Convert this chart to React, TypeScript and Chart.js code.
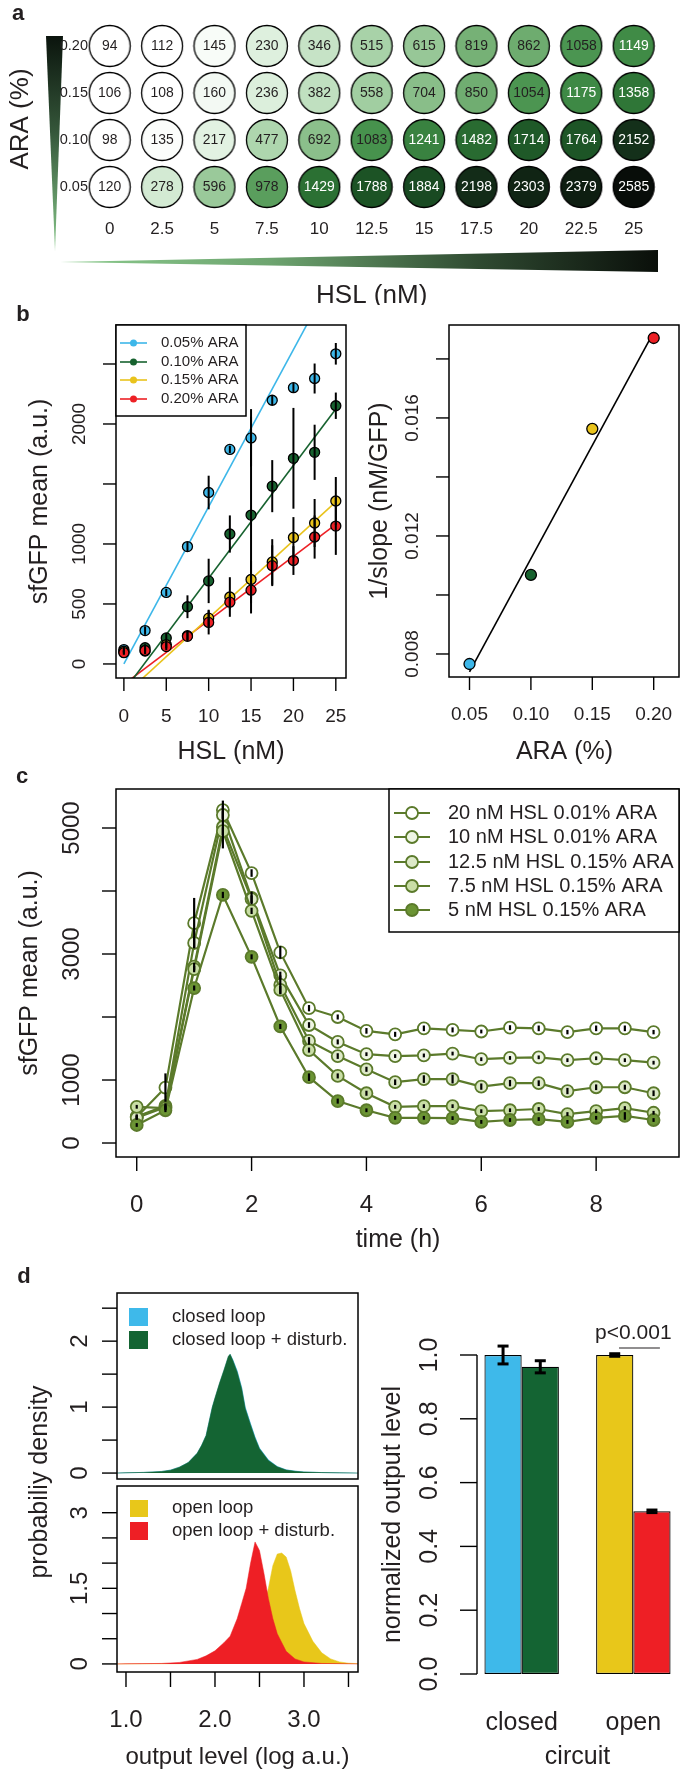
import React, { useEffect, useRef } from 'react';
import { Chart, registerables } from 'chart.js';

Chart.register(...registerables);

const FONT = "'Liberation Sans', Arial, Helvetica, sans-serif";
const INK = '#231f20';

// ---------------- Panel a / b (left) data ----------------
const hslLabels = ['0', '2.5', '5', '7.5', '10', '12.5', '15', '17.5', '20', '22.5', '25'];
const hslNM = [0, 2.5, 5, 7.5, 10, 12.5, 15, 17.5, 20, 22.5, 25];
const araLabels = ['0.05', '0.10', '0.15', '0.20'];
const gfpARA005 = [120, 278, 596, 978, 1429, 1788, 1884, 2198, 2303, 2379, 2585];
const gfpARA010 = [98, 135, 217, 477, 692, 1083, 1241, 1482, 1714, 1764, 2152];
const gfpARA015 = [106, 108, 160, 236, 382, 558, 704, 850, 1054, 1175, 1358];
const gfpARA020 = [94, 112, 145, 230, 346, 515, 615, 819, 862, 1058, 1149];
const errARA005 = [20, 35, 30, 40, 140, 30, 240, 40, 40, 125, 90];
const errARA010 = [20, 30, 40, 95, 185, 155, 820, 217, 420, 230, 110];
const errARA015 = [15, 25, 30, 40, 70, 165, 160, 190, 170, 200, 200];
const errARA020 = [15, 25, 30, 40, 100, 60, 110, 170, 120, 180, 240];
const fitSlope = [131, 94, 64.5, 53.3];
const fitIntercept = [0, -225, -262, -170];
const araSeriesNames = ['0.05% ARA', '0.10% ARA', '0.15% ARA', '0.20% ARA'];
const araColors = ['#3db7e9', '#17622f', '#e9c31c', '#ed2025'];

// ---------------- Panel b (right) data ----------------
const araPercent = [0.05, 0.1, 0.15, 0.2];
const inverseSlope = [0.00766, 0.01068, 0.01563, 0.01871];
const inverseFitIntercept = 0.00355;
const inverseFitSlope = 0.0768;

// ---------------- Panel c data ----------------
const timeH = [0, 0.5, 1, 1.5, 2, 2.5, 3, 3.5, 4, 4.5, 5, 5.5, 6, 6.5, 7, 7.5, 8, 8.5, 9];
const cNames = ['20 nM HSL 0.01% ARA', '10 nM HSL 0.01% ARA', '12.5 nM HSL 0.15% ARA', '7.5 nM HSL 0.15% ARA', '5 nM HSL 0.15% ARA'];
const cFills = ['#ffffff', '#eef5e3', '#dde9c8', '#c9dea6', '#6b9434'];
const cS1 = [413, 880, 3490, 5285, 4285, 3025, 2140, 2000, 1780, 1725, 1820, 1795, 1770, 1830, 1820, 1760, 1820, 1820, 1760];
const cS2 = [420, 590, 3175, 5206, 3890, 2660, 1873, 1605, 1410, 1380, 1390, 1420, 1330, 1350, 1360, 1315, 1345, 1315, 1275];
const cS3 = [400, 570, 2800, 5016, 3870, 2510, 1621, 1380, 1170, 965, 1015, 1015, 895, 950, 950, 825, 885, 885, 790];
const cS4 = [575, 555, 2760, 4950, 3685, 2430, 1475, 1065, 790, 575, 585, 585, 505, 520, 540, 460, 505, 555, 480];
const cS5 = [286, 520, 2460, 3937, 2955, 1850, 1045, 665, 520, 400, 400, 395, 335, 365, 380, 335, 400, 430, 365];
const cE1 = [40, 225, 400, 150, 60, 100, 50, 40, 45, 40, 45, 40, 30, 40, 45, 35, 45, 45, 35];
const cE2 = [30, 40, 80, 60, 100, 60, 45, 40, 30, 30, 30, 30, 30, 30, 30, 30, 30, 30, 30];
const cE3 = [30, 40, 60, 340, 60, 150, 60, 45, 40, 45, 60, 70, 50, 50, 45, 50, 45, 40, 45];
const cE4 = [30, 35, 50, 60, 50, 60, 40, 40, 40, 30, 30, 30, 30, 30, 30, 30, 30, 30, 30];
const cE5 = [30, 30, 40, 50, 40, 40, 60, 40, 30, 30, 30, 30, 30, 30, 30, 30, 30, 60, 30];
const OLIVE = '#5b7a2b';

// ---------------- Panel d data ----------------
const closedX = [0.9, 1.0, 1.2, 1.4, 1.5, 1.6, 1.7, 1.8, 1.85, 1.9, 1.97, 2.0, 2.05, 2.1, 2.15, 2.17, 2.2, 2.25, 2.3, 2.34, 2.4, 2.45, 2.5, 2.6, 2.7, 2.8, 2.9, 3.0, 3.2, 3.4, 3.61];
const closedLoop = [0, 0.004, 0.01, 0.025, 0.045, 0.09, 0.16, 0.3, 0.42, 0.57, 1.0, 1.13, 1.35, 1.55, 1.76, 1.8, 1.72, 1.55, 1.3, 1.0, 0.75, 0.55, 0.38, 0.2, 0.1, 0.05, 0.03, 0.018, 0.008, 0.003, 0];
const closedLoopDisturbed = [0, 0.004, 0.01, 0.024, 0.044, 0.09, 0.16, 0.3, 0.42, 0.57, 1.0, 1.14, 1.36, 1.56, 1.77, 1.8, 1.71, 1.53, 1.28, 0.98, 0.73, 0.53, 0.37, 0.19, 0.095, 0.046, 0.027, 0.016, 0.007, 0.003, 0];
const openX = [0.9, 1.6, 2.0, 2.2, 2.3, 2.4, 2.5, 2.55, 2.6, 2.65, 2.7, 2.75, 2.8, 2.85, 2.9, 2.95, 3.0, 3.1, 3.2, 3.3, 3.4, 3.5, 3.61];
const openLoop = [0, 0.005, 0.03, 0.1, 0.2, 0.42, 0.85, 1.15, 1.5, 1.95, 2.18, 2.2, 2.12, 1.85, 1.45, 1.1, 0.8, 0.45, 0.22, 0.1, 0.04, 0.015, 0.005];
const openDistX = [0.9, 1.0, 1.4, 1.6, 1.8, 1.9, 2.0, 2.1, 2.17, 2.25, 2.3, 2.35, 2.4, 2.45, 2.5, 2.55, 2.6, 2.65, 2.7, 2.8, 2.9, 3.0, 3.2, 3.61];
const openLoopDisturbed = [0, 0.003, 0.01, 0.03, 0.09, 0.16, 0.26, 0.42, 0.55, 0.9, 1.2, 1.5, 2.0, 2.42, 2.25, 1.8, 1.3, 0.9, 0.6, 0.25, 0.1, 0.04, 0.01, 0];
const circuits = ['closed', 'open'];
const levelUndisturbed = [1.0, 1.0];
const levelDisturbed = [0.963, 0.51];
const errUndisturbed = [0.028, 0.004];
const errDisturbed = [0.019, 0.004];
const dBlue = '#3eb9ea';
const dGreen = '#146433';
const dYellow = '#e8c71a';
const dRed = '#ee1f25';

// ---------------- helpers ----------------
function txt(ctx: any, s: string, x: number, y: number, size: number, o: any = {}) {
  ctx.save();
  ctx.font = `${o.bold ? 'bold ' : ''}${size}px ${FONT}`;
  ctx.fillStyle = o.color || INK;
  ctx.textAlign = o.align || 'center';
  ctx.textBaseline = o.baseline || 'middle';
  ctx.translate(x, y);
  if (o.rot) ctx.rotate(o.rot);
  if (o.sx) ctx.scale(o.sx, 1);
  ctx.fillText(s, 0, 0);
  ctx.restore();
}
function seg(ctx: any, x1: number, y1: number, x2: number, y2: number) {
  ctx.beginPath();
  ctx.moveTo(x1, y1);
  ctx.lineTo(x2, y2);
  ctx.stroke();
}
const ROT = -Math.PI / 2;

function yAxisR(ctx: any, sy: (v: number) => number, axisX: number, values: number[], labels: string[], labelX: number, size: number, tick = 13) {
  ctx.save();
  ctx.strokeStyle = '#000';
  ctx.lineWidth = 1.4;
  values.forEach((v, i) => {
    const y = sy(v);
    seg(ctx, axisX - tick, y, axisX, y);
    if (labels[i]) txt(ctx, labels[i], labelX, y, size, { rot: ROT });
  });
  ctx.restore();
}
function xAxisR(ctx: any, sx: (v: number) => number, axisY: number, values: number[], labels: string[], labelY: number, size: number, tick = 13) {
  ctx.save();
  ctx.strokeStyle = '#000';
  ctx.lineWidth = 1.4;
  values.forEach((v, i) => {
    const x = sx(v);
    seg(ctx, x, axisY, x, axisY + tick);
    if (labels[i]) txt(ctx, labels[i], x, labelY, size);
  });
  ctx.restore();
}
function boxR(ctx: any, a: any) {
  ctx.save();
  ctx.strokeStyle = '#000';
  ctx.lineWidth = 1.5;
  ctx.strokeRect(a.left, a.top, a.right - a.left, a.bottom - a.top);
  ctx.restore();
}

const heatStops: [number, number[]][] = [
  [0, [255, 255, 255]], [120, [255, 255, 255]], [250, [216, 237, 216]], [500, [170, 212, 170]],
  [800, [121, 179, 121]], [1100, [68, 144, 74]], [1400, [44, 114, 52]], [1800, [27, 82, 37]],
  [2150, [20, 48, 26]], [2600, [8, 12, 8]],
];
function heatColor(v: number) {
  for (let i = 1; i < heatStops.length; i++) {
    const [v1, c1] = heatStops[i];
    const [v0, c0] = heatStops[i - 1];
    if (v <= v1) {
      const t = (v - v0) / (v1 - v0);
      const c = c0.map((k, j) => Math.round(k + (c1[j] - k) * t));
      return `rgb(${c[0]},${c[1]},${c[2]})`;
    }
  }
  return 'rgb(8,12,8)';
}
function ellipseImage(fill: string) {
  const c = document.createElement('canvas');
  c.width = 44;
  c.height = 44;
  const g = c.getContext('2d') as CanvasRenderingContext2D;
  g.beginPath();
  g.ellipse(22, 22, 20.5, 20.5, 0, 0, Math.PI * 2);
  g.fillStyle = fill;
  g.fill();
  g.lineWidth = 1.3;
  g.strokeStyle = '#000';
  g.stroke();
  return c;
}

type Rect = { left: number; top: number; width: number; height: number };
type Area = { left: number; top: number; right: number; bottom: number };

function PanelChart({ rect, area, make }: { rect: Rect; area: Area; make: (ox: number, oy: number, area: Area) => any }) {
  const ref = useRef<HTMLCanvasElement>(null);
  useEffect(() => {
    const cfg = make(rect.left, rect.top, area);
    const o = cfg.options || {};
    o.responsive = false;
    o.maintainAspectRatio = false;
    o.animation = false;
    o.devicePixelRatio = 1;
    o.events = [];
    o.layout = {
      padding: {
        left: area.left - rect.left,
        top: area.top - rect.top,
        right: rect.left + rect.width - area.right,
        bottom: rect.top + rect.height - area.bottom,
      },
    };
    o.plugins = { ...(o.plugins || {}), legend: { display: false }, tooltip: { enabled: false }, title: { display: false } };
    cfg.options = o;
    const chart = new Chart(ref.current as HTMLCanvasElement, cfg);
    return () => chart.destroy();
  }, []);
  return (
    <canvas
      ref={ref}
      width={rect.width}
      height={rect.height}
      style={{ position: 'absolute', left: rect.left, top: rect.top, width: rect.width, height: rect.height }}
    />
  );
}

function scalers(chart: any, ox: number, oy: number) {
  const X = (v: number) => chart.scales.x.getPixelForValue(v) + ox;
  const Y = (v: number) => chart.scales.y.getPixelForValue(v) + oy;
  return { X, Y };
}

// ---------------- Panel a ----------------
function makeA(ox: number, oy: number, area: Area) {
  const rows = [gfpARA005, gfpARA010, gfpARA015, gfpARA020];
  const cells: any[] = [];
  rows.forEach((row, r) => row.forEach((v, c) => cells.push({ x: c, y: r, v })));
  const images = cells.map((c) => ellipseImage(heatColor(c.v)));
  // one column = 54.4 px; plot area starts half a column left of the first column
  const colPx = 54.4;
  const xMax = -0.5 + (area.right - area.left) / colPx;
  return {
    type: 'scatter',
    data: { datasets: [{ data: cells, pointStyle: images, pointRadius: 21, pointHoverRadius: 21 }] },
    options: {
      scales: {
        x: { type: 'linear', display: false, min: -0.5, max: xMax },
        y: { type: 'linear', display: false, min: -0.5, max: araLabels.length - 0.5 },
      },
    },
    plugins: [
      {
        id: 'panelA',
        afterDraw(chart: any) {
          const ctx = chart.ctx;
          const { X, Y } = scalers(chart, ox, oy);
          ctx.save();
          ctx.translate(-ox, -oy);
          txt(ctx, 'a', 18, 14, 22, { bold: true });
          // vertical wedge (ARA)
          let g = ctx.createLinearGradient(0, 36, 0, 250);
          g.addColorStop(0, '#0b140d');
          g.addColorStop(0.45, '#35573a');
          g.addColorStop(1, '#86c689');
          ctx.fillStyle = g;
          ctx.beginPath();
          ctx.moveTo(46, 36);
          ctx.lineTo(63, 36);
          ctx.lineTo(55, 251);
          ctx.closePath();
          ctx.fill();
          // horizontal wedge (HSL)
          g = ctx.createLinearGradient(60, 0, 658, 0);
          g.addColorStop(0, '#8ccb8e');
          g.addColorStop(0.35, '#6ea570');
          g.addColorStop(0.7, '#2f4a31');
          g.addColorStop(1, '#0a0f0a');
          ctx.fillStyle = g;
          ctx.beginPath();
          ctx.moveTo(60, 262);
          ctx.lineTo(658, 250);
          ctx.lineTo(658, 272);
          ctx.closePath();
          ctx.fill();
          txt(ctx, 'ARA (%)', 21, 119, 26, { rot: ROT });
          txt(ctx, 'HSL (nM)', X(5), 296, 26);
          araLabels.forEach((l, r) => txt(ctx, l, 88, Y(r), 14.5, { align: 'right' }));
          hslLabels.forEach((l, c) => txt(ctx, l, X(c), 229, 17));
          const meta = chart.getDatasetMeta(0);
          cells.forEach((cell, i) => {
            const el = meta.data[i];
            txt(ctx, String(cell.v), el.x + ox, el.y + oy, 15, { color: cell.v > 1100 ? '#ffffff' : INK, sx: 0.93 });
          });
          ctx.restore();
        },
      },
    ],
  };
}

// ---------------- Panel b left ----------------
function makeBLeft(ox: number, oy: number, area: Area) {
  const vals = [gfpARA005, gfpARA010, gfpARA015, gfpARA020];
  const errs = [errARA005, errARA010, errARA015, errARA020];
  const xMax = hslNM[hslNM.length - 1];
  const fits = fitSlope.map((m, k) => ({
    data: [{ x: hslNM[0], y: fitIntercept[k] + m * hslNM[0] }, { x: xMax, y: fitIntercept[k] + m * xMax }],
    borderColor: araColors[k],
    borderWidth: 1.6,
    pointRadius: 0,
    order: 10,
  }));
  const pts = vals.map((v, k) => ({
    data: hslNM.map((x, i) => ({ x, y: v[i] })),
    showLine: false,
    pointRadius: 5,
    pointBackgroundColor: araColors[k],
    pointBorderColor: '#000',
    pointBorderWidth: 1.3,
    order: 4 - k,
  }));
  return {
    type: 'line',
    data: { datasets: [...fits, ...pts] },
    options: {
      scales: {
        x: { type: 'linear', display: false, min: -0.93, max: 25.93 },
        y: { type: 'linear', display: false, min: -117, max: 2825 },
      },
    },
    plugins: [
      {
        id: 'errB',
        afterDatasetsDraw(chart: any) {
          const ctx = chart.ctx;
          const { X, Y } = scalers(chart, ox, oy);
          ctx.save();
          ctx.translate(-ox, -oy);
          ctx.strokeStyle = '#000';
          ctx.lineWidth = 2;
          vals.forEach((v, k) =>
            v.forEach((y, i) => {
              const x = X(hslNM[i]);
              seg(ctx, x, Math.min(Y(y - errs[k][i]), area.bottom), x, Math.max(Y(y + errs[k][i]), area.top));
            })
          );
          ctx.restore();
        },
        afterDraw(chart: any) {
          const ctx = chart.ctx;
          const { X, Y } = scalers(chart, ox, oy);
          ctx.save();
          ctx.translate(-ox, -oy);
          txt(ctx, 'b', 23, 315, 22, { bold: true });
          boxR(ctx, area);
          yAxisR(ctx, Y, area.left, [0, 500, 1000, 1500, 2000, 2500], ['0', '500', '1000', '', '2000', ''], 80, 19);
          xAxisR(ctx, X, area.bottom, [0, 5, 10, 15, 20, 25], ['0', '5', '10', '15', '20', '25'], 717, 19);
          txt(ctx, 'sfGFP mean (a.u.)', 40, (area.top + area.bottom) / 2, 25, { rot: ROT });
          txt(ctx, 'HSL (nM)', (area.left + area.right) / 2, 752, 25);
          // legend
          ctx.fillStyle = '#fff';
          ctx.fillRect(116, 325, 130, 91);
          ctx.strokeStyle = '#000';
          ctx.lineWidth = 1.5;
          ctx.strokeRect(116, 325, 130, 91);
          const rowsY = [343, 362, 380, 399];
          araSeriesNames.forEach((n, k) => {
            ctx.strokeStyle = araColors[k];
            ctx.lineWidth = 1.6;
            seg(ctx, 120, rowsY[k], 147, rowsY[k]);
            ctx.fillStyle = araColors[k];
            ctx.beginPath();
            ctx.arc(133.5, rowsY[k], 3.5, 0, Math.PI * 2);
            ctx.fill();
            txt(ctx, n, 161, rowsY[k], 15, { align: 'left' });
          });
          ctx.restore();
        },
      },
    ],
  };
}

// ---------------- Panel b right ----------------
function makeBRight(ox: number, oy: number, area: Area) {
  const x0 = araPercent[0];
  const x1 = araPercent[araPercent.length - 1];
  return {
    type: 'line',
    data: {
      datasets: [
        {
          data: [{ x: x0, y: inverseFitIntercept + inverseFitSlope * x0 }, { x: x1, y: inverseFitIntercept + inverseFitSlope * x1 }],
          borderColor: '#000',
          borderWidth: 1.6,
          pointRadius: 0,
          order: 5,
        },
        {
          data: araPercent.map((x, i) => ({ x, y: inverseSlope[i] })),
          showLine: false,
          pointRadius: 5.5,
          pointBackgroundColor: araColors,
          pointBorderColor: '#000',
          pointBorderWidth: 1.3,
          order: 1,
        },
      ],
    },
    options: {
      scales: {
        x: { type: 'linear', display: false, min: 0.0333, max: 0.2167 },
        y: { type: 'linear', display: false, min: 0.00722, max: 0.01915 },
      },
    },
    plugins: [
      {
        id: 'axBR',
        afterDraw(chart: any) {
          const ctx = chart.ctx;
          const { X, Y } = scalers(chart, ox, oy);
          ctx.save();
          ctx.translate(-ox, -oy);
          boxR(ctx, { ...area, right: area.right - 1 });
          yAxisR(ctx, Y, area.left, [0.008, 0.01, 0.012, 0.014, 0.016, 0.018], ['0.008', '', '0.012', '', '0.016', ''], 413, 19);
          xAxisR(ctx, X, area.bottom, araPercent, ['0.05', '0.10', '0.15', '0.20'], 715, 19);
          txt(ctx, '1/slope (nM/GFP)', 380, (area.top + area.bottom) / 2, 25, { rot: ROT });
          txt(ctx, 'ARA (%)', (area.left + area.right) / 2, 752, 25);
          ctx.restore();
        },
      },
    ],
  };
}

// ---------------- Panel c ----------------
function makeC(ox: number, oy: number, area: Area) {
  const series = [cS1, cS2, cS3, cS4, cS5];
  const errs = [cE1, cE2, cE3, cE4, cE5];
  return {
    type: 'line',
    data: {
      datasets: series.map((s, k) => ({
        data: timeH.map((t, i) => ({ x: t, y: s[i] })),
        borderColor: OLIVE,
        borderWidth: 2.2,
        pointRadius: 6,
        pointBackgroundColor: cFills[k],
        pointBorderColor: OLIVE,
        pointBorderWidth: 1.8,
        order: 5 - k,
      })),
    },
    options: {
      scales: {
        x: { type: 'linear', display: false, min: -0.361, max: 9.342 },
        y: { type: 'linear', display: false, min: -222, max: 5619 },
      },
    },
    plugins: [
      {
        id: 'errC',
        afterDatasetsDraw(chart: any) {
          const ctx = chart.ctx;
          const { X, Y } = scalers(chart, ox, oy);
          ctx.save();
          ctx.translate(-ox, -oy);
          ctx.strokeStyle = '#000';
          ctx.lineWidth = 2.2;
          series.forEach((s, k) =>
            s.forEach((v, i) => {
              const x = X(timeH[i]);
              seg(ctx, x, Y(v - errs[k][i]), x, Y(v + errs[k][i]));
            })
          );
          ctx.restore();
        },
        afterDraw(chart: any) {
          const ctx = chart.ctx;
          const { X, Y } = scalers(chart, ox, oy);
          ctx.save();
          ctx.translate(-ox, -oy);
          txt(ctx, 'c', 22, 777, 22, { bold: true });
          boxR(ctx, { ...area, right: area.right - 1 });
          yAxisR(ctx, Y, area.left, [0, 1000, 2000, 3000, 4000, 5000], ['0', '1000', '', '3000', '', '5000'], 72, 24, 14);
          xAxisR(ctx, X, area.bottom, [0, 2, 4, 6, 8], ['0', '2', '4', '6', '8'], 1205, 24, 14);
          txt(ctx, 'sfGFP mean (a.u.)', 30, (area.top + area.bottom) / 2, 25, { rot: ROT });
          txt(ctx, 'time (h)', (area.left + area.right) / 2, 1240, 25);
          // legend
          ctx.fillStyle = '#fff';
          ctx.fillRect(389, 789, 290, 143);
          ctx.strokeStyle = '#000';
          ctx.lineWidth = 1.5;
          ctx.strokeRect(389, 789, 290, 143);
          const rowsY = [813, 837, 862, 886, 910];
          cNames.forEach((n, k) => {
            ctx.strokeStyle = OLIVE;
            ctx.lineWidth = 2.2;
            seg(ctx, 394, rowsY[k], 430, rowsY[k]);
            ctx.beginPath();
            ctx.arc(412, rowsY[k], 6, 0, Math.PI * 2);
            ctx.fillStyle = cFills[k];
            ctx.fill();
            ctx.lineWidth = 1.8;
            ctx.stroke();
            txt(ctx, n, 448, rowsY[k], 20, { align: 'left' });
          });
          ctx.restore();
        },
      },
    ],
  };
}

// ---------------- Panel d ----------------
function densitySet(xs: number[], ys: number[], color: string, order: number) {
  return {
    data: xs.map((x, i) => ({ x, y: ys[i] })),
    fill: 'origin',
    backgroundColor: color,
    borderColor: color,
    borderWidth: 0.5,
    pointRadius: 0,
    order,
  };
}
function makeDTop(ox: number, oy: number, area: Area) {
  return {
    type: 'line',
    data: {
      datasets: [densitySet(closedX, closedLoop, dBlue, 2), densitySet(closedX, closedLoopDisturbed, dGreen, 1)],
    },
    options: {
      scales: {
        x: { type: 'linear', display: false, min: 0.899, max: 3.607 },
        y: { type: 'linear', display: false, min: -0.09, max: 2.73 },
      },
    },
    plugins: [
      {
        id: 'axDT',
        afterDraw(chart: any) {
          const ctx = chart.ctx;
          const { Y } = scalers(chart, ox, oy);
          ctx.save();
          ctx.translate(-ox, -oy);
          txt(ctx, 'd', 24, 1277, 22, { bold: true });
          boxR(ctx, area);
          yAxisR(ctx, Y, area.left, [0, 0.5, 1, 1.5, 2, 2.5], ['0', '', '1', '', '2', ''], 80, 24, 15);
          ctx.fillStyle = dBlue;
          ctx.fillRect(129, 1308, 19, 18);
          ctx.fillStyle = dGreen;
          ctx.fillRect(129, 1331, 19, 18);
          txt(ctx, 'closed loop', 172, 1317, 18.5, { align: 'left' });
          txt(ctx, 'closed loop + disturb.', 172, 1340, 18.5, { align: 'left' });
          ctx.restore();
        },
      },
    ],
  };
}
function makeDBottom(ox: number, oy: number, area: Area) {
  return {
    type: 'line',
    data: {
      datasets: [densitySet(openX, openLoop, dYellow, 2), densitySet(openDistX, openLoopDisturbed, dRed, 1)],
    },
    options: {
      scales: {
        x: { type: 'linear', display: false, min: 0.899, max: 3.607 },
        y: { type: 'linear', display: false, min: -0.16, max: 3.53 },
      },
    },
    plugins: [
      {
        id: 'axDB',
        afterDraw(chart: any) {
          const ctx = chart.ctx;
          const { X, Y } = scalers(chart, ox, oy);
          ctx.save();
          ctx.translate(-ox, -oy);
          boxR(ctx, area);
          yAxisR(ctx, Y, area.left, [0, 0.5, 1, 1.5, 2, 2.5, 3], ['0', '', '', '1.5', '', '', '3'], 80, 24, 15);
          xAxisR(ctx, X, area.bottom, [1, 1.5, 2, 2.5, 3, 3.5], ['1.0', '', '2.0', '', '3.0', ''], 1720, 24, 15);
          txt(ctx, 'output level (log a.u.)', (area.left + area.right) / 2, 1757, 24);
          txt(ctx, 'probabiliy density', 40, 1482, 25, { rot: ROT });
          ctx.fillStyle = dYellow;
          ctx.fillRect(130, 1500, 18, 17);
          ctx.fillStyle = dRed;
          ctx.fillRect(130, 1522, 18, 18);
          txt(ctx, 'open loop', 172, 1508, 18.5, { align: 'left' });
          txt(ctx, 'open loop + disturb.', 172, 1531, 18.5, { align: 'left' });
          ctx.restore();
        },
      },
    ],
  };
}
function makeDRight(ox: number, oy: number, area: Area) {
  // barplot-style positions: group i centred at 2 + 3i (bars of width 1, gap of 1)
  const centers = circuits.map((_, i) => 2 + 3 * i);
  const barBase = { borderColor: '#000', borderWidth: 1.2, borderSkipped: false, barPercentage: 1, categoryPercentage: 2 / 3, clip: false };
  return {
    type: 'bar',
    data: {
      datasets: [
        { ...barBase, data: centers.map((x, i) => ({ x, y: levelUndisturbed[i] })), backgroundColor: [dBlue, dYellow] },
        { ...barBase, data: centers.map((x, i) => ({ x, y: levelDisturbed[i] })), backgroundColor: [dGreen, dRed] },
      ],
    },
    options: {
      scales: {
        x: {
          type: 'linear',
          display: false,
          offset: false,
          bounds: 'data',
          grid: { offset: false },
          min: 0.8,
          max: 6.2,
          afterBuildTicks: (s: any) => {
            s.ticks = centers.map((v) => ({ value: v }));
          },
        },
        y: { type: 'linear', display: false, min: 0, max: 1 },
      },
    },
    plugins: [
      {
        id: 'axDR',
        afterDraw(chart: any) {
          const ctx = chart.ctx;
          const { X, Y } = scalers(chart, ox, oy);
          ctx.save();
          ctx.translate(-ox, -oy);
          // error bars
          ctx.strokeStyle = '#000';
          ctx.lineWidth = 3;
          const groups = [levelUndisturbed, levelDisturbed];
          const errs = [errUndisturbed, errDisturbed];
          [0, 1].forEach((d) => {
            const meta = chart.getDatasetMeta(d);
            groups[d].forEach((v, i) => {
              const x = meta.data[i].x + ox;
              const y1 = Y(v - errs[d][i]);
              const y2 = Y(v + errs[d][i]);
              seg(ctx, x, y1, x, y2);
              seg(ctx, x - 5.5, y1, x + 5.5, y1);
              seg(ctx, x - 5.5, y2, x + 5.5, y2);
            });
          });
          // axis
          ctx.lineWidth = 1.4;
          seg(ctx, area.left, Y(0), area.left, Y(1));
          yAxisR(ctx, Y, area.left, [0, 0.2, 0.4, 0.6, 0.8, 1.0], ['0.0', '0.2', '0.4', '0.6', '0.8', '1.0'], 430, 25, 17);
          txt(ctx, 'normalized output level', 393, (Y(0) + Y(1)) / 2, 25, { rot: ROT });
          circuits.forEach((c, i) => txt(ctx, c, X(centers[i]), 1723, 25));
          txt(ctx, 'circuit', (area.left + area.right) / 2, 1757, 25);
          // p-value with the "0.00" part underlined
          ctx.save();
          ctx.font = `21px ${FONT}`;
          ctx.fillStyle = INK;
          ctx.textAlign = 'left';
          ctx.textBaseline = 'middle';
          const full = 'p<0.001';
          const wFull = ctx.measureText(full).width;
          const wP = ctx.measureText('p<').width;
          const wU = ctx.measureText('0.00').width;
          const x0 = X(centers[1]) - wFull / 2;
          ctx.fillText(full, x0, 1333);
          ctx.lineWidth = 1.2;
          ctx.strokeStyle = INK;
          seg(ctx, x0 + wP, 1348, x0 + wP + wU, 1348);
          ctx.restore();
          ctx.restore();
        },
      },
    ],
  };
}

export default function App() {
  return (
    <div style={{ position: 'absolute', left: 0, top: 0, width: 681, height: 1771, background: '#fff', overflow: 'hidden' }}>
      <PanelChart rect={{ left: 0, top: 0, width: 681, height: 305 }} area={{ left: 83.5, top: 22.5, right: 681, bottom: 210.5 }} make={makeA} />
      <PanelChart rect={{ left: 0, top: 300, width: 350, height: 470 }} area={{ left: 116, top: 325, right: 346, bottom: 678 }} make={makeBLeft} />
      <PanelChart rect={{ left: 350, top: 300, width: 331, height: 470 }} area={{ left: 449, top: 325, right: 680, bottom: 677 }} make={makeBRight} />
      <PanelChart rect={{ left: 0, top: 765, width: 681, height: 500 }} area={{ left: 116, top: 789, right: 680, bottom: 1157 }} make={makeC} />
      <PanelChart rect={{ left: 0, top: 1265, width: 370, height: 218 }} area={{ left: 117, top: 1293, right: 358, bottom: 1479 }} make={makeDTop} />
      <PanelChart rect={{ left: 0, top: 1370, width: 370, height: 401 }} area={{ left: 117, top: 1486, right: 358, bottom: 1672 }} make={makeDBottom} />
      <PanelChart rect={{ left: 370, top: 1265, width: 311, height: 506 }} area={{ left: 477, top: 1355, right: 678, bottom: 1674 }} make={makeDRight} />
    </div>
  );
}
